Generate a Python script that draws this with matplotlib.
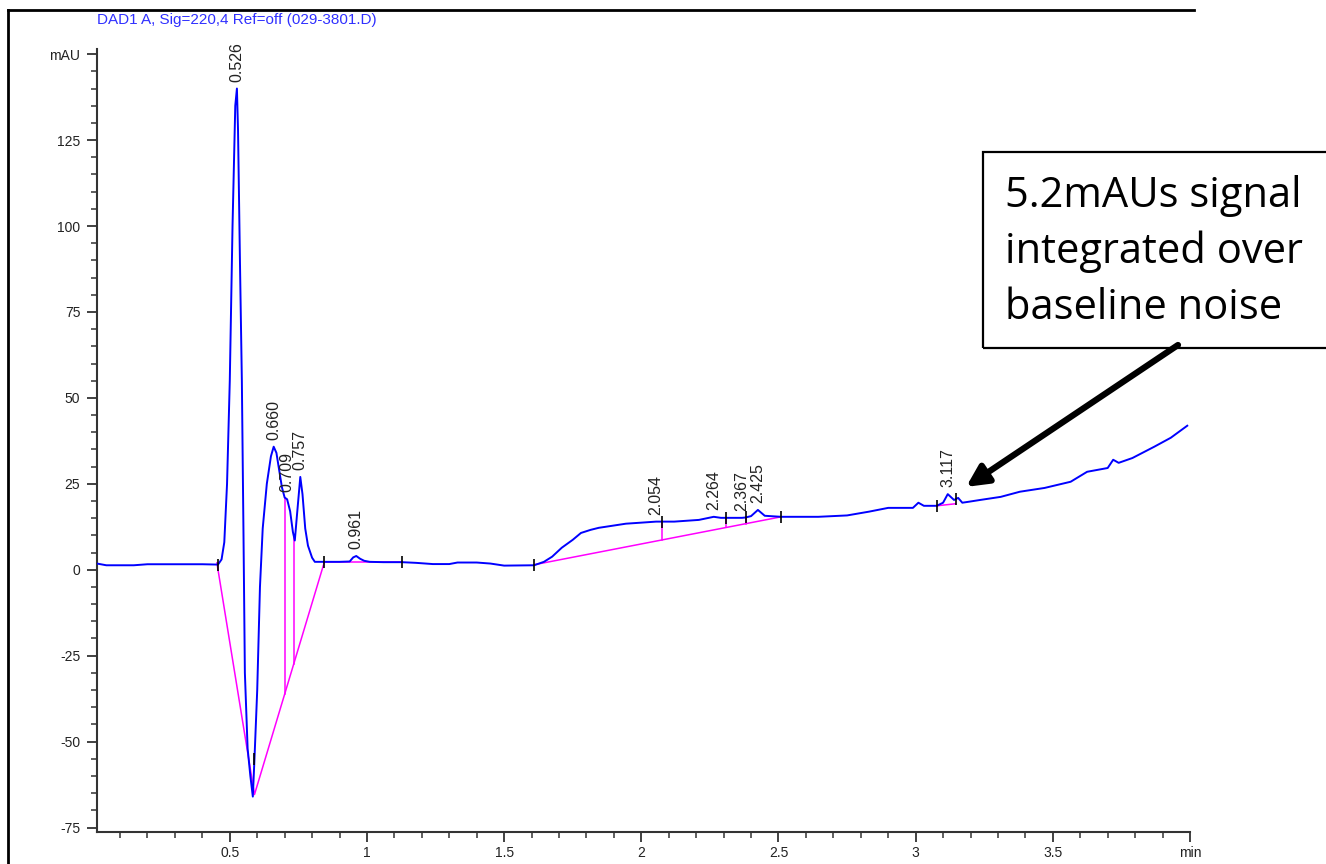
import numpy as np
import matplotlib.pyplot as plt
from matplotlib.lines import Line2D
from matplotlib.patches import Rectangle
from matplotlib.ticker import MultipleLocator

# Chromatogram trace (min, mAU)
time = [0.016, 0.05, 0.10, 0.15, 0.20, 0.25, 0.30, 0.35, 0.40, 0.457,
        0.47, 0.48, 0.49, 0.50, 0.51, 0.52, 0.526, 0.53, 0.537, 0.544,
        0.55, 0.555, 0.565, 0.575, 0.584, 0.59, 0.60, 0.61, 0.62, 0.635,
        0.65, 0.66, 0.67, 0.68, 0.69, 0.70, 0.709, 0.72, 0.73, 0.737,
        0.745, 0.757, 0.765, 0.775, 0.785, 0.80, 0.81, 0.845,
        0.90, 0.937, 0.95, 0.961, 0.975, 0.99, 1.01, 1.06, 1.128, 1.18,
        1.24, 1.30, 1.33, 1.40, 1.45, 1.50, 1.609,
        1.645, 1.675, 1.71, 1.75, 1.78, 1.815, 1.845, 1.87, 1.944, 2.0,
        2.054, 2.12, 2.21, 2.24, 2.264, 2.29, 2.31, 2.367, 2.38, 2.40,
        2.425, 2.45, 2.51, 2.645, 2.75, 2.83, 2.90, 2.99, 3.01, 3.03,
        3.077, 3.10, 3.117, 3.14, 3.155, 3.17, 3.195, 3.235, 3.31, 3.38,
        3.47, 3.565, 3.625, 3.70, 3.72, 3.74, 3.79, 3.87, 3.93, 3.99]
signal = [1.8, 1.3, 1.3, 1.3, 1.6, 1.6, 1.6, 1.6, 1.6, 1.5,
          3, 8, 25, 55, 100, 135, 140, 128, 90, 55,
          10, -30, -52, -60, -66, -55, -35, -5, 12, 25,
          33, 35.8, 34, 29, 24, 21, 20.5, 17, 11, 8.5,
          16, 27, 22, 12, 7, 3.5, 2.3, 2.3,
          2.3, 2.4, 3.6, 4.0, 3.2, 2.6, 2.3, 2.2, 2.2, 2.0,
          1.65, 1.65, 2.1, 2.1, 1.8, 1.2, 1.3,
          2.3, 3.8, 6.4, 8.7, 10.7, 11.6, 12.2, 12.5, 13.4, 13.7,
          14.0, 14.0, 14.5, 15.0, 15.4, 15.1, 15.1, 15.1, 15.2, 15.6,
          17.4, 15.7, 15.4, 15.4, 15.8, 16.9, 18.0, 18.0, 19.5, 18.6,
          18.6, 19.5, 22.0, 20.3, 20.9, 19.5, 19.8, 20.3, 21.2, 22.7,
          23.8, 25.6, 28.5, 29.6, 32.0, 31.1, 32.5, 35.8, 38.4, 41.9]

# Integration baselines
base1_t = [0.453, 0.59, 0.845]
base1_y = [2.0, -65.4, 2.3]
base2_t = [0.845, 1.128]
base2_y = [2.3, 2.3]
base3_t = [1.609, 2.51]
base3_y = [1.45, 15.4]
base4_t = [3.077, 3.146]
base4_y = [18.6, 19.2]

# Drop lines (time, which baseline)
drop1_times = [0.70, 0.733]
drop3_times = [2.074, 2.31, 2.38]

# Baseline event markers
event_t = [0.457, 0.59, 0.845, 1.128, 1.609, 2.074, 2.31, 2.38, 2.51, 3.077, 3.146]

peak_times = [0.526, 0.660, 0.709, 0.757, 0.961, 2.054, 2.264, 2.367, 2.425, 3.117]
peak_labels = ['0.526', '0.660', '0.709', '0.757', '0.961',
               '2.054', '2.264', '2.367', '2.425', '3.117']

xticks = [0.5, 1, 1.5, 2, 2.5, 3, 3.5, 4.0]
xtick_labels = ['0.5', '1', '1.5', '2', '2.5', '3', '3.5', 'min']
yticks = [-75, -50, -25, 0, 25, 50, 75, 100, 125, 150]
ytick_labels = ['-75', '-50', '-25', '0', '25', '50', '75', '100', '125', 'mAU']

W, H = 1326, 864
plt.rcParams['font.family'] = ['Liberation Sans', 'DejaVu Sans']
fig = plt.figure(figsize=(W / 100, H / 100), dpi=100)


def fx(px):
    return px / W


def fy(py):
    return 1 - py / H


ax = fig.add_axes([fx(97), fy(832), fx(1190) - fx(97), fy(49) - fy(832)])

ax.plot(time, signal, color='#0000ff', lw=1.4, zorder=3)

mag = '#ff00ff'
for bt, by in [(base1_t, base1_y), (base2_t, base2_y), (base3_t, base3_y), (base4_t, base4_y)]:
    ax.plot(bt, by, color=mag, lw=1.1, zorder=2)

for t in drop1_times:
    ax.plot([t, t], [np.interp(t, time, signal), np.interp(t, base1_t, base1_y)],
            color=mag, lw=1.1, zorder=2)
for t in drop3_times:
    ax.plot([t, t], [np.interp(t, time, signal), np.interp(t, base3_t, base3_y)],
            color=mag, lw=1.1, zorder=2)

ev_y = np.interp(event_t, time, signal)
ax.plot(event_t, ev_y, ls='none', marker='|', ms=8, mew=1.2, color='black', zorder=4)

for t, lab in zip(peak_times, peak_labels):
    ax.annotate(lab, xy=(t, np.interp(t, time, signal)), xytext=(0, 5),
                textcoords='offset points', rotation=90, ha='center', va='bottom',
                fontsize=11.5, color='#222222')

ax.set_xlim(0.016, 4.0)
ax.set_ylim(-76.3, 151.5)
ax.set_xticks(xticks)
ax.set_xticklabels(xtick_labels)
ax.set_yticks(yticks)
ax.set_yticklabels(ytick_labels)
ax.xaxis.set_minor_locator(MultipleLocator(0.1))
ax.yaxis.set_minor_locator(MultipleLocator(5))
for s in ['top', 'right']:
    ax.spines[s].set_visible(False)
for s in ['left', 'bottom']:
    ax.spines[s].set_linewidth(1.5)
    ax.spines[s].set_color('#333333')
ax.tick_params(which='major', length=7, width=1.3, color='#333333',
               labelsize=10, labelcolor='#222222', pad=5)
ax.tick_params(which='minor', length=4, width=1.1, color='#333333')
ax.tick_params(axis='x', which='major', pad=3)

# instrument header
fig.text(fx(97), fy(20), 'DAD1 A, Sig=220,4 Ref=off (029-3801.D)', color='#3030ff',
         fontsize=11, ha='left', va='center')

# slide frame
fig.add_artist(Line2D([fx(8), fx(1194)], [fy(10), fy(10)], color='black', lw=2))
fig.add_artist(Line2D([fx(8), fx(8)], [fy(10), fy(864)], color='black', lw=2))

# callout box
fig.add_artist(Rectangle((fx(983), fy(348)), fx(400), fy(152) - fy(348),
                         transform=fig.transFigure, fill=False, ec='black', lw=1.6))
fig.text(fx(1005), fy(252), '5.2mAUs signal\nintegrated over\nbaseline noise',
         family='Open Sans', fontsize=30, ha='left', va='center', linespacing=1.42)

ax.annotate('', xy=(3.184, 24.1), xytext=(fx(1178), fy(345)),
            xycoords='data', textcoords='figure fraction',
            arrowprops=dict(arrowstyle='-|>', lw=4.5, mutation_scale=32,
                            color='black', shrinkA=0, shrinkB=0))

fig.savefig('out.png', dpi=100)
